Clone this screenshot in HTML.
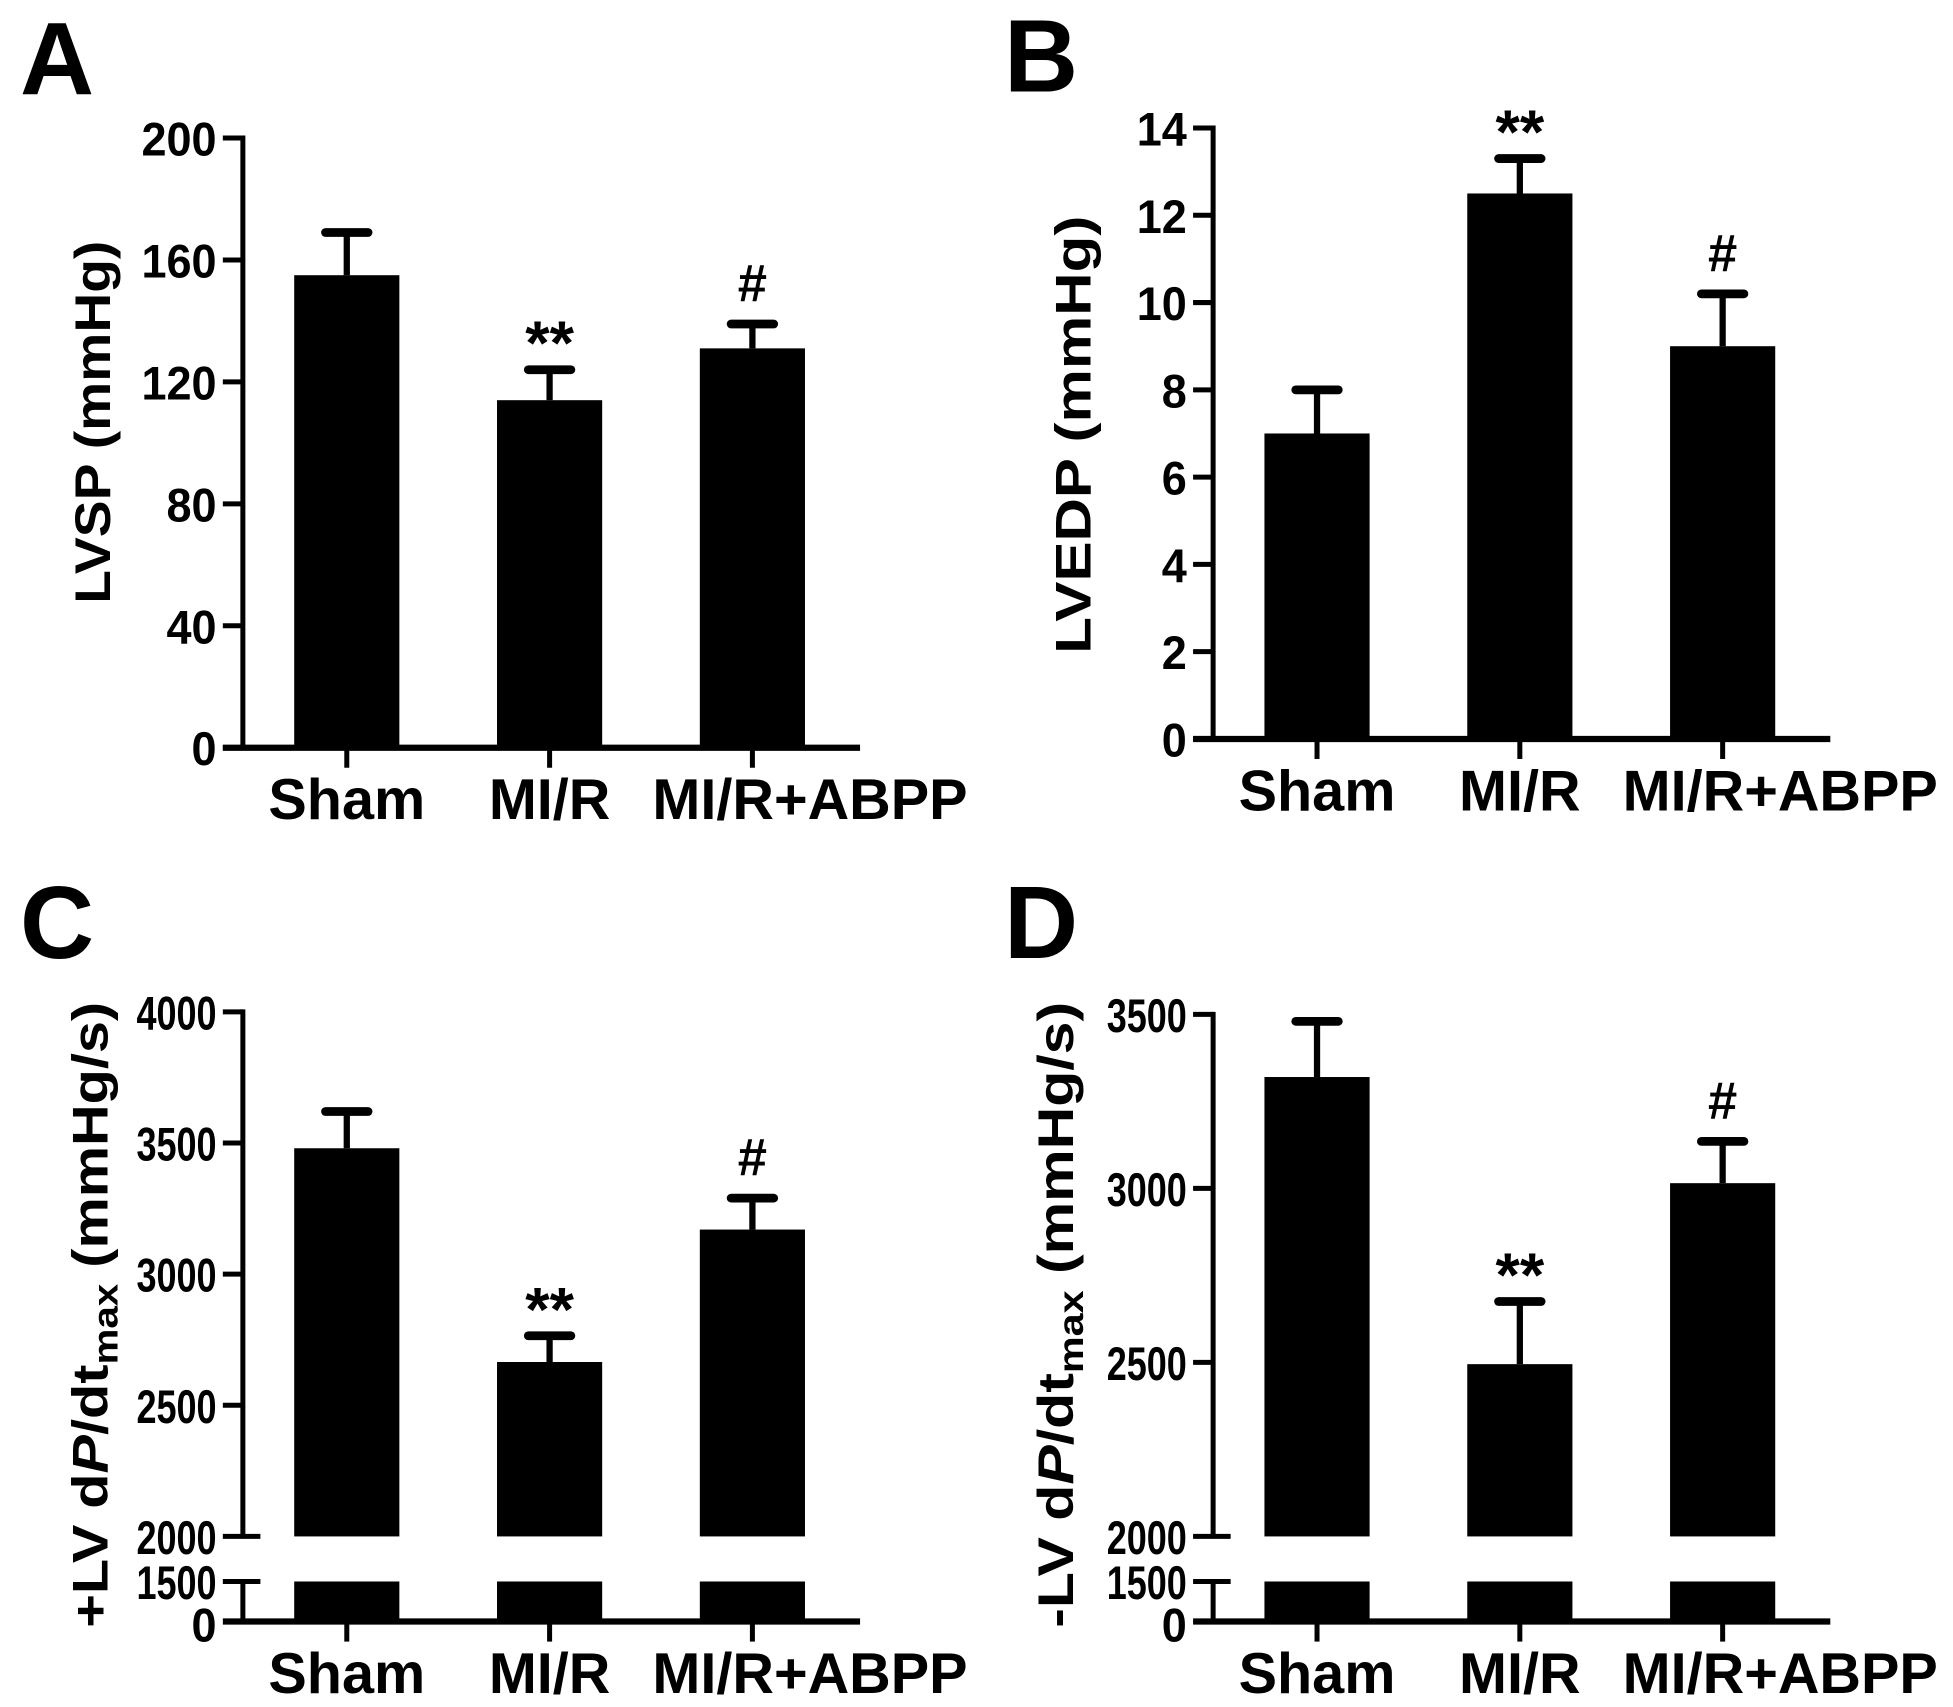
<!DOCTYPE html>
<html><head><meta charset="utf-8"><style>
html,body{margin:0;padding:0;background:#fff}
svg{display:block}
text{font-family:"Liberation Sans",Arial,sans-serif;font-weight:bold;fill:#000}
</style></head><body>
<svg id="fig" width="1953" height="1707" viewBox="0 0 1560 1363" xmlns="http://www.w3.org/2000/svg"></svg>
<script>
const categories = ["Sham", "MI/R", "MI/R+ABPP"];
const lvspValues = [155, 114, 131];
const lvspErrors = [14, 10, 8];
const lvspTicks = [0, 40, 80, 120, 160, 200];
const lvedpValues = [7.0, 12.5, 9.0];
const lvedpErrors = [1.0, 0.8, 1.2];
const lvedpTicks = [0, 2, 4, 6, 8, 10, 12, 14];
const plusValues = [3480, 2665, 3170];
const plusErrors = [140, 100, 120];
const plusTicks = [2000, 2500, 3000, 3500, 4000];
const minusValues = [3320, 2495, 3015];
const minusErrors = [160, 180, 120];
const minusTicks = [2000, 2500, 3000, 3500];
const lvspMarks = ["", "**", "#"];
const lvedpMarks = ["", "**", "#"];
const plusMarks = ["", "**", "#"];
const minusMarks = ["", "**", "#"];

const svg = document.getElementById('fig');
const NS = "http://www.w3.org/2000/svg";
function mk(tag, attrs, parent){const e=document.createElementNS(NS,tag);for(const k in attrs)e.setAttribute(k,attrs[k]);(parent||svg).appendChild(e);return e;}
const labelShift = [0, 0, 46];

function panel(cfg){
  const g = mk('g',{});
  
  
  const ax = cfg.ax, x1 = ax + 493;
  const y = v => cfg.yTop + (cfg.max - v) / (cfg.max - cfg.min) * (cfg.yBot - cfg.yTop);
  const base = cfg.broken ? cfg.min : 0;
  const letter = mk('text',{x:cfg.letterX,y:cfg.letterY,'font-size':82},g);
  letter.textContent = cfg.letter;
  
  
  const yAxis = mk('line',{x1:ax,y1:cfg.yTop-2,x2:ax,y2:cfg.broken?cfg.yBot:cfg.zeroY,stroke:'#000','stroke-width':4},g);
  
  
  function tickLabel(s, yy){
    const n = String(s).length;
    const l = mk('text',{x:ax-21,y:yy+14,'font-size':38,'text-anchor':'end',textLength:n>3?64:n*20,lengthAdjust:'spacingAndGlyphs'},g);
    l.textContent = s;
    
    
  }
  cfg.ticks.forEach(t=>{
    const ty = y(t);
    mk('line',{x1:ax-16,y1:ty,x2:ax+(cfg.broken&&t===cfg.min?14:0),y2:ty,stroke:'#000','stroke-width':4},g);
    tickLabel(t, ty);
  });
  if (cfg.broken){
    mk('line',{x1:ax,y1:cfg.lowTop,x2:ax,y2:cfg.zeroY,stroke:'#000','stroke-width':4},g);
    mk('line',{x1:ax-16,y1:cfg.lowTop,x2:ax+14,y2:cfg.lowTop,stroke:'#000','stroke-width':4},g);
    tickLabel('1500', cfg.lowTop);
    tickLabel('0', cfg.zeroY+2);
  }
  const xAxis = mk('line',{x1:ax-16,y1:cfg.zeroY,x2:x1,y2:cfg.zeroY,stroke:'#000','stroke-width':5},g);
  
  
  categories.forEach((c,i)=>{
    const cx = ax + 83 + i*162;
    const v = cfg.values[i], e = cfg.errors[i];
    mk('line',{x1:cx,y1:y(v),x2:cx,y2:y(v+e),stroke:'#000','stroke-width':5},g);
    const cap = mk('line',{x1:cx-17,y1:y(v+e),x2:cx+17,y2:y(v+e),stroke:'#000','stroke-width':7,'stroke-linecap':'round'},g);
    
    
    const bar = mk('rect',{x:cx-42,y:y(v),width:84,height:y(base)-y(v)},g);
    
    
    if (cfg.broken){
      mk('rect',{x:cx-42,y:cfg.lowTop,width:84,height:cfg.zeroY-cfg.lowTop},g);
    }
    mk('line',{x1:cx,y1:cfg.zeroY,x2:cx,y2:cfg.zeroY+16,stroke:'#000','stroke-width':4},g);
    const cl = mk('text',{x:cx+labelShift[i],y:cfg.zeroY+57,'font-size':46,'text-anchor':'middle'},g);
    cl.textContent = c;
    
    
    if (cfg.marks[i]){
      const m = mk('text',{x:cx,y:y(v+e)-(cfg.marks[i]==='#'?18:4),'font-size':cfg.marks[i]==='#'?42:50,'text-anchor':'middle'},g);
      m.textContent = cfg.marks[i];
      
      
    }
  });
  const tt = mk('text',{transform:`translate(${cfg.titleX},${cfg.titleY}) rotate(-90)`,'font-size':40,'text-anchor':'middle',textLength:cfg.titleLen,lengthAdjust:'spacingAndGlyphs'},g);
  tt.innerHTML = cfg.title;
  
  
}

panel({letter:'A',letterX:16,ax:194,yTop:110,yBot:597,zeroY:597,min:0,max:200,ticks:lvspTicks,values:lvspValues,errors:lvspErrors,marks:lvspMarks,letterY:75,title:'LVSP (mmHg)',titleX:88,titleY:337,titleLen:290});
panel({letter:'B',letterX:802,ax:969,yTop:102,yBot:590,zeroY:590,min:0,max:14,ticks:lvedpTicks,values:lvedpValues,errors:lvedpErrors,marks:lvedpMarks,letterY:73,title:'LVEDP (mmHg)',titleX:871,titleY:347,titleLen:350});
panel({letter:'C',letterX:16,ax:194,yTop:808,yBot:1227,zeroY:1295,lowTop:1263,broken:true,min:2000,max:4000,ticks:plusTicks,values:plusValues,errors:plusErrors,marks:plusMarks,letterY:765,title:'+LV d<tspan font-style="italic">P</tspan>/dt<tspan font-size="28" dy="8">max</tspan><tspan dy="-8"> (mmHg/s)</tspan>',titleX:86,titleY:1050,titleLen:500});
panel({letter:'D',letterX:802,ax:969,yTop:810,yBot:1227,zeroY:1295,lowTop:1263,broken:true,min:2000,max:3500,ticks:minusTicks,values:minusValues,errors:minusErrors,marks:minusMarks,letterY:765,title:'-LV d<tspan font-style="italic">P</tspan>/dt<tspan font-size="28" dy="8">max</tspan><tspan dy="-8"> (mmHg/s)</tspan>',titleX:857,titleY:1050,titleLen:500});
</script>
</body></html>
